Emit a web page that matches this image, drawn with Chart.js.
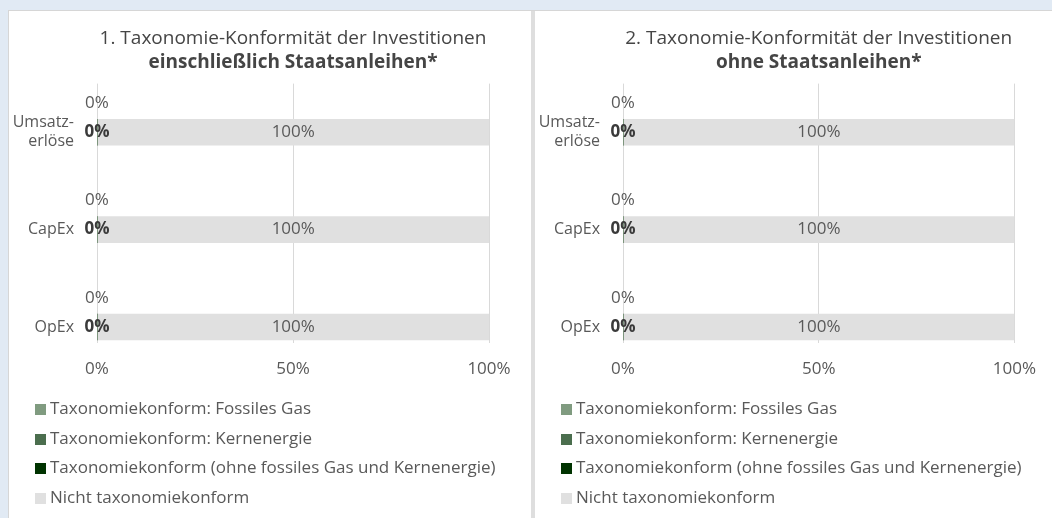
<!DOCTYPE html>
<html lang="de">
<head>
<meta charset="utf-8">
<title>Taxonomie-Konformität der Investitionen</title>
<script src="https://cdn.jsdelivr.net/npm/chart.js@4.4.0/dist/chart.umd.min.js"></script>
<style>
  body { margin: 0; background: #e1eaf4; font-family: "Open Sans", sans-serif; }
  #frame { position: absolute; left: 8px; top: 10px; width: 1043px; height: 507px;
           background: #fff; border-left: 1px solid #d6d6d6; border-top: 1px solid #d6d6d6; }
  .panel { position: absolute; top: 0; height: 507px; }
  #p1 { left: 0; width: 522px; }
  #p2 { left: 526px; width: 517px; }
  #divider { position: absolute; left: 522px; top: 0; width: 4px; height: 507px; background: #dedede; }
  canvas { position: absolute; left: 0; top: 0; }
  .legend { position: absolute; left: 26px; top: 382px; margin: 0; padding: 0; list-style: none; }
  .legend li { height: 29.5px; line-height: 29.5px; font-size: 17px; color: #595959; white-space: nowrap; }
  .legend span { display: inline-block; width: 11px; height: 11px; margin-right: 4px; vertical-align: -1px; }
</style>
</head>
<body>
<div id="frame">
  <div class="panel" id="p1"><canvas id="chart1" width="522" height="384"></canvas><ul class="legend" id="legend1"></ul></div>
  <div id="divider"></div>
  <div class="panel" id="p2"><canvas id="chart2" width="517" height="384"></canvas><ul class="legend" id="legend2"></ul></div>
</div>
<script>
// Kategorien und Werte (in %)
const categories = ['Umsatzerlöse', 'CapEx', 'OpEx'];
const categoryLines = [['Umsatz-', 'erlöse'], 'CapEx', 'OpEx'];
const seriesNames = [
    'Taxonomiekonform: Fossiles Gas',
    'Taxonomiekonform: Kernenergie',
    'Taxonomiekonform (ohne fossiles Gas und Kernenergie)',
    'Nicht taxonomiekonform'
];
const seriesColors = ['#809b80', '#4b6e4e', '#003300', '#e0e0e0'];
const xTicks = [0, 50, 100];

// 1. einschließlich Staatsanleihen
const fossilGas1 = [0, 0, 0];
const nuclear1 = [0, 0, 0];
const aligned1 = [0, 0, 0];
const notAligned1 = [100, 100, 100];

// 2. ohne Staatsanleihen
const fossilGas2 = [0, 0, 0];
const nuclear2 = [0, 0, 0];
const aligned2 = [0, 0, 0];
const notAligned2 = [100, 100, 100];

const textColor = '#595959';
const FONT = 'Open Sans';

function pct(v) {
    return Math.round(v) + '%';
}

// Beschriftung der Balken (kein datalabels-Plugin vorhanden)
const barLabels = {
    id: 'barLabels',
    afterDatasetsDraw(chart) {
        const ctx = chart.ctx;
        const ds = chart.data.datasets;
        const gas = chart.getDatasetMeta(0).data;
        const al = chart.getDatasetMeta(2).data;
        const na = chart.getDatasetMeta(3).data;
        ctx.save();
        ctx.textAlign = 'center';
        ctx.textBaseline = 'middle';
        categories.forEach((c, i) => {
            // Fossiles Gas + Kernenergie über dem Balken
            const g = gas[i].getProps(['x', 'base', 'y'], true);
            ctx.font = '17px "' + FONT + '"';
            ctx.fillStyle = textColor;
            ctx.fillText(pct(ds[0].data[i].x + ds[1].data[i].x), (g.x + g.base) / 2, g.y - 29);

            const a = al[i].getProps(['x', 'base', 'y'], true);
            ctx.font = 'bold 17px "' + FONT + '"';
            ctx.fillStyle = '#3a3a3a';
            ctx.fillText(pct(ds[2].data[i].x), (a.x + a.base) / 2, a.y);

            const n = na[i].getProps(['x', 'base', 'y'], true);
            ctx.font = '17px "' + FONT + '"';
            ctx.fillStyle = textColor;
            ctx.fillText(pct(ds[3].data[i].x), (n.x + n.base) / 2, n.y);
        });
        ctx.restore();
    }
};

function makeChart(canvasId, legendId, title, subtitle, series) {
    const canvas = document.getElementById(canvasId);
    const chartWidth = canvas.width;
    const chart = new Chart(canvas.getContext('2d'), {
        type: 'bar',
        data: {
            datasets: series.map((vals, k) => ({
                label: seriesNames[k],
                data: vals.map((v, i) => ({ x: v, y: i })),
                backgroundColor: seriesColors[k],
                borderWidth: 0,
                barThickness: 26
            }))
        },
        options: {
            indexAxis: 'y',
            responsive: false,
            animation: false,
            layout: {
                padding: { left: 0, right: chartWidth - 480, top: 0, bottom: 0 }
            },
            plugins: {
                legend: { display: false },
                tooltip: { enabled: false },
                title: {
                    display: true,
                    text: title,
                    fullSize: false,
                    color: '#454545',
                    font: { family: FONT, size: 19, weight: 'normal' },
                    padding: { top: 16, bottom: 1 }
                },
                subtitle: {
                    display: true,
                    text: subtitle,
                    fullSize: false,
                    color: '#454545',
                    font: { family: FONT, size: 19, weight: 'bold' },
                    padding: { top: 0, bottom: 10 }
                }
            },
            scales: {
                x: {
                    stacked: true,
                    min: 0,
                    max: 100,
                    afterBuildTicks: s => { s.ticks = xTicks.map(v => ({ value: v })); },
                    ticks: {
                        color: textColor,
                        font: { family: FONT, size: 17 },
                        padding: 16,
                        maxRotation: 0,
                        callback: v => v + '%'
                    },
                    grid: { color: '#d9d9d9', lineWidth: 1, drawTicks: false },
                    border: { display: false }
                },
                y: {
                    type: 'linear',
                    stacked: true,
                    reverse: true,
                    offset: false,
                    min: -0.5,
                    max: 2.16,
                    afterBuildTicks: s => { s.ticks = categories.map((c, i) => ({ value: i })); },
                    afterFit: s => { s.width = 88; },
                    ticks: {
                        color: textColor,
                        font: { family: FONT, size: 16, lineHeight: 1.2 },
                        padding: 15,
                        callback: v => categoryLines[v]
                    },
                    grid: { display: false },
                    border: { display: false }
                }
            }
        },
        plugins: [barLabels]
    });

    // HTML-Legende, eine Zeile je Serie
    const ul = document.getElementById(legendId);
    chart.data.datasets.forEach(ds => {
        const li = document.createElement('li');
        const box = document.createElement('span');
        box.style.background = ds.backgroundColor;
        li.appendChild(box);
        li.appendChild(document.createTextNode(ds.label));
        ul.appendChild(li);
    });
    return chart;
}

makeChart('chart1', 'legend1',
    '1. Taxonomie-Konformität der Investitionen', 'einschließlich Staatsanleihen*',
    [fossilGas1, nuclear1, aligned1, notAligned1]);
makeChart('chart2', 'legend2',
    '2. Taxonomie-Konformität der Investitionen', 'ohne Staatsanleihen*',
    [fossilGas2, nuclear2, aligned2, notAligned2]);
</script>
</body>
</html>
